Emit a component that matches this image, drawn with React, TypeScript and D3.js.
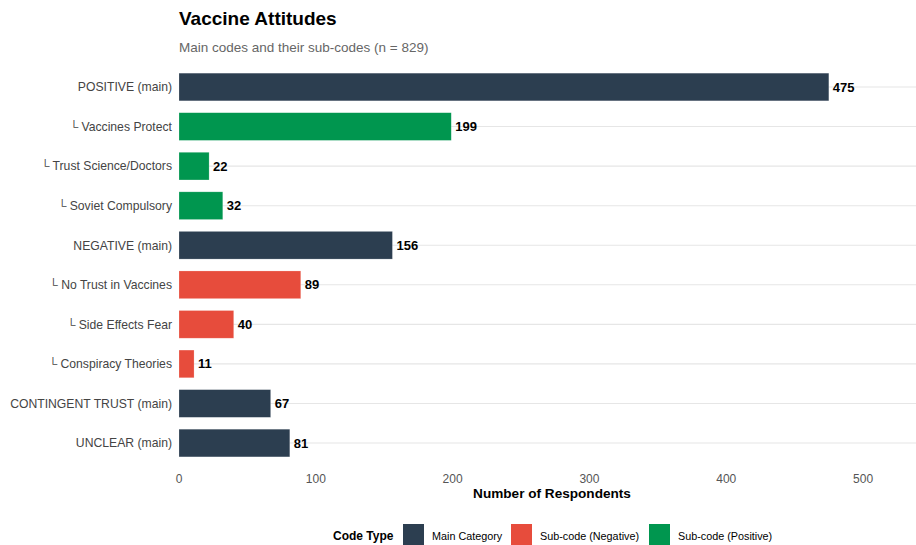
import React from "react";
import * as d3 from "d3";

const categories = [
  "POSITIVE (main)",
  "└ Vaccines Protect",
  "└ Trust Science/Doctors",
  "└ Soviet Compulsory",
  "NEGATIVE (main)",
  "└ No Trust in Vaccines",
  "└ Side Effects Fear",
  "└ Conspiracy Theories",
  "CONTINGENT TRUST (main)",
  "UNCLEAR (main)",
];
const counts = [475, 199, 22, 32, 156, 89, 40, 11, 67, 81];
const codeTypes = [
  "Main Category",
  "Sub-code (Positive)",
  "Sub-code (Positive)",
  "Sub-code (Positive)",
  "Main Category",
  "Sub-code (Negative)",
  "Sub-code (Negative)",
  "Sub-code (Negative)",
  "Main Category",
  "Main Category",
];
const legendTypes = ["Main Category", "Sub-code (Negative)", "Sub-code (Positive)"];
const typeColors = ["#2C3E50", "#E74C3C", "#00964F"];
const xTicks = [0, 100, 200, 300, 400, 500];

const W = 916;
const H = 545;
const FONT = "'Liberation Sans', Arial, Helvetica, sans-serif";

export default function App() {
  const x = d3.scaleLinear().domain([0, 538.7]).range([179, 916]);
  const step = 39.56;
  const y = d3
    .scaleBand<string>()
    .domain(categories)
    .range([87 - step / 2, 87 + 9 * step + step / 2])
    .paddingInner(0.3)
    .paddingOuter(0.15);
  const color = d3.scaleOrdinal<string, string>().domain(legendTypes).range(typeColors);
  const yc = (c: string) => (y(c) ?? 0) + y.bandwidth() / 2;

  const legendX = [403, 511, 649];

  return (
    <svg
      width={W}
      height={H}
      style={{ position: "absolute", left: 0, top: 0, background: "#fff" }}
      fontFamily={FONT}
    >
      <text x={179} y={25} fontSize={19} fontWeight="bold" fill="#000">
        Vaccine Attitudes
      </text>
      <text x={179} y={52} fontSize={13.5} fill="#666">
        Main codes and their sub-codes (n = 829)
      </text>

      {categories.map((c) => (
        <line key={"g" + c} x1={179} x2={916} y1={yc(c)} y2={yc(c)} stroke="#e6e6e6" strokeWidth={1.1} />
      ))}

      {categories.map((c, i) => (
        <rect
          key={"b" + c}
          x={x(0)}
          y={y(c)}
          width={x(counts[i]) - x(0)}
          height={y.bandwidth()}
          fill={color(codeTypes[i])}
          stroke="#ffffff"
          strokeOpacity={0.35}
          strokeWidth={0.6}
        />
      ))}

      {categories.map((c, i) => (
        <text
          key={"v" + c}
          x={x(counts[i]) + 4}
          y={yc(c)}
          dy="0.35em"
          fontSize={13}
          fontWeight="bold"
          fill="#000"
        >
          {counts[i]}
        </text>
      ))}

      {categories.map((c) => (
        <text key={"l" + c} x={172} y={yc(c)} dy="0.35em" fontSize={12.2} fill="#444" textAnchor="end">
          {c}
        </text>
      ))}

      {xTicks.map((t) => (
        <text key={"t" + t} x={x(t)} y={483} fontSize={12} fill="#555" textAnchor="middle">
          {t}
        </text>
      ))}
      <text x={552} y={498} fontSize={13.6} fontWeight="bold" fill="#000" textAnchor="middle">
        Number of Respondents
      </text>

      <text x={333} y={540} fontSize={12} fontWeight="bold" fill="#000">
        Code Type
      </text>
      {legendTypes.map((t, i) => (
        <g key={"k" + t}>
          <rect x={legendX[i]} y={524} width={21} height={21} fill={color(t)} />
          <text x={legendX[i] + 29} y={539.5} fontSize={10.8} fill="#000">
            {t}
          </text>
        </g>
      ))}
    </svg>
  );
}
